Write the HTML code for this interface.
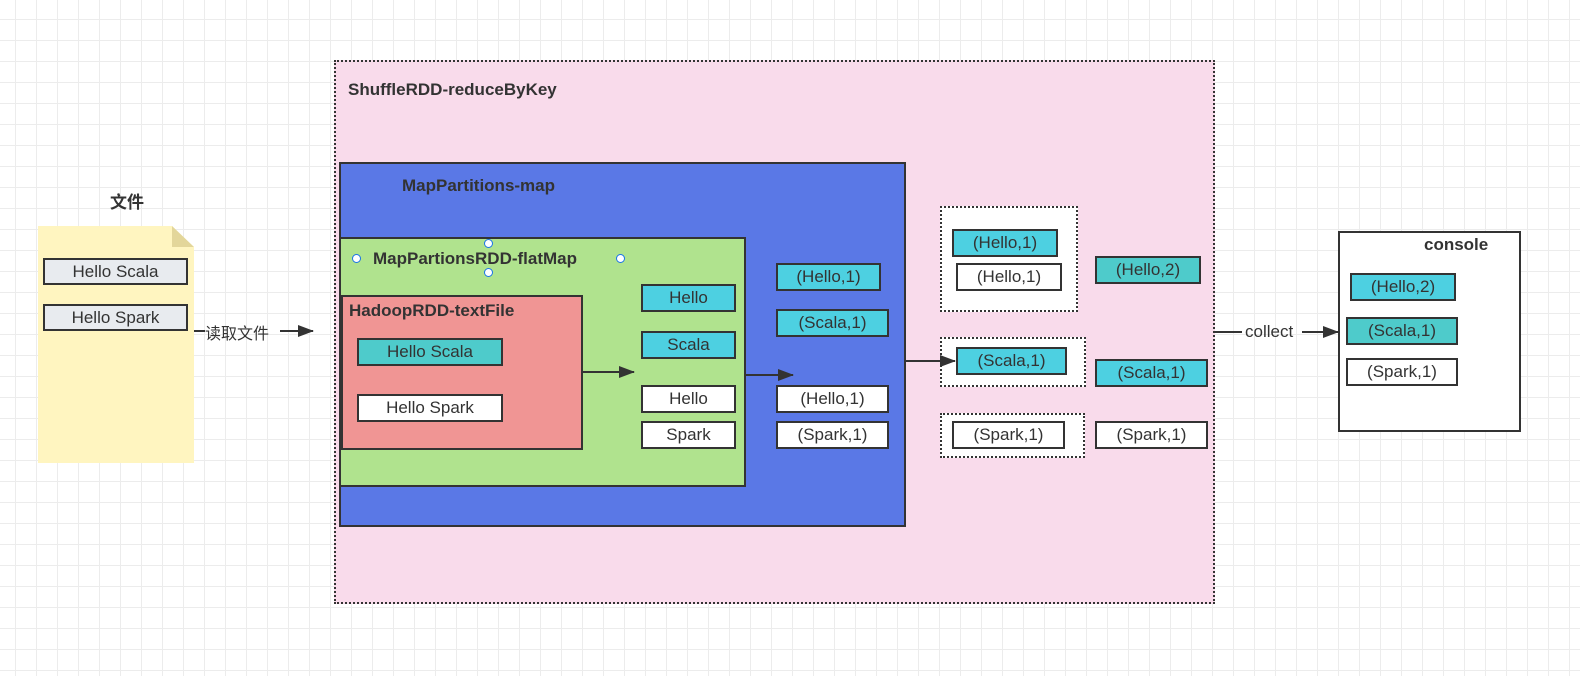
<!DOCTYPE html>
<html><head><meta charset="utf-8"><style>
body{margin:0;width:1580px;height:676px;overflow:hidden;position:relative;font-family:"Liberation Sans","Noto Sans CJK SC",sans-serif;
background-color:#fff;background-image:linear-gradient(#ececec 1px,transparent 1px),linear-gradient(90deg,#ececec 1px,transparent 1px);background-size:21px 21px;background-position:-6px -2px;}
.a{position:absolute;box-sizing:border-box}
.b{position:absolute;box-sizing:border-box;border:2px solid #333;display:flex;align-items:center;justify-content:center;font-size:17px;color:#333}
.c{background:#4dd0e1}.t{background:#4ecbcb}.w{background:#fff}.g{background:#e8ebef}
.h{position:absolute;font-weight:bold;color:#333;font-size:17px;white-space:nowrap}
.d{position:absolute;box-sizing:border-box;border:2px dotted #333}
.hd{position:absolute;width:9px;height:9px;border:1.5px solid #1a73e8;border-radius:50%;background:#fff;box-sizing:border-box}
</style></head><body>
<div class="h" style="left:110px;top:188px">文件</div>
<div class="a" style="left:38px;top:226px;width:156px;height:237px;background:#fff5c0;clip-path:polygon(0 0,134px 0,156px 21px,156px 100%,0 100%)"></div>
<div class="a" style="left:172px;top:226px;width:22px;height:21px;background:#e3d69a;clip-path:polygon(0 0,0 100%,100% 100%)"></div>
<div class="b g" style="left:43px;top:258px;width:145px;height:27px">Hello Scala</div>
<div class="b g" style="left:43px;top:304px;width:145px;height:27px">Hello Spark</div>

<div class="d" style="left:334px;top:60px;width:881px;height:544px;background:#f9dbeb"></div>
<div class="h" style="left:348px;top:80px">ShuffleRDD-reduceByKey</div>
<div class="a" style="left:339px;top:162px;width:567px;height:365px;background:#5a78e6;border:2px solid #333"></div>
<div class="h" style="left:402px;top:176px">MapPartitions-map</div>
<div class="a" style="left:339px;top:237px;width:407px;height:250px;background:#b0e38e;border:2px solid #333"></div>
<div class="h" style="left:373px;top:249px">MapPartionsRDD-flatMap</div>
<div class="hd" style="left:484px;top:239px"></div><div class="hd" style="left:352px;top:254px"></div><div class="hd" style="left:616px;top:254px"></div><div class="hd" style="left:484px;top:268px"></div>
<div class="a" style="left:341px;top:295px;width:242px;height:155px;background:#f09594;border:2px solid #333"></div>
<div class="h" style="left:349px;top:301px">HadoopRDD-textFile</div>
<div class="b t" style="left:357px;top:338px;width:146px;height:28px">Hello Scala</div>
<div class="b w" style="left:357px;top:394px;width:146px;height:28px">Hello Spark</div>
<div class="b c" style="left:641px;top:284px;width:95px;height:28px">Hello</div>
<div class="b c" style="left:641px;top:331px;width:95px;height:28px">Scala</div>
<div class="b w" style="left:641px;top:385px;width:95px;height:28px">Hello</div>
<div class="b w" style="left:641px;top:421px;width:95px;height:28px">Spark</div>
<div class="b c" style="left:776px;top:263px;width:105px;height:28px">(Hello,1)</div>
<div class="b c" style="left:776px;top:309px;width:113px;height:28px">(Scala,1)</div>
<div class="b w" style="left:776px;top:385px;width:113px;height:28px">(Hello,1)</div>
<div class="b w" style="left:776px;top:421px;width:113px;height:28px">(Spark,1)</div>

<div class="d" style="left:940px;top:206px;width:138px;height:106px;background:#fff"></div>
<div class="d" style="left:940px;top:337px;width:146px;height:50px;background:#fff"></div>
<div class="d" style="left:940px;top:413px;width:145px;height:45px;background:#fff"></div>
<div class="b c" style="left:952px;top:229px;width:106px;height:28px">(Hello,1)</div>
<div class="b w" style="left:956px;top:263px;width:106px;height:28px">(Hello,1)</div>
<div class="b c" style="left:956px;top:347px;width:111px;height:28px">(Scala,1)</div>
<div class="b w" style="left:952px;top:421px;width:113px;height:28px">(Spark,1)</div>
<div class="b t" style="left:1095px;top:256px;width:106px;height:28px">(Hello,2)</div>
<div class="b c" style="left:1095px;top:359px;width:113px;height:28px">(Scala,1)</div>
<div class="b w" style="left:1095px;top:421px;width:113px;height:28px">(Spark,1)</div>

<div class="a" style="left:1338px;top:231px;width:183px;height:201px;background:#fff;border:2px solid #333"></div>
<div class="h" style="left:1424px;top:235px">console</div>
<div class="b c" style="left:1350px;top:273px;width:106px;height:28px">(Hello,2)</div>
<div class="b t" style="left:1346px;top:317px;width:112px;height:28px">(Scala,1)</div>
<div class="b w" style="left:1346px;top:358px;width:112px;height:28px">(Spark,1)</div>

<svg class="a" style="left:0;top:0" width="1580" height="676">
<defs><marker id="m" markerWidth="16" markerHeight="12" refX="15" refY="6" orient="auto" markerUnits="userSpaceOnUse"><path d="M0,0L16,6L0,12z" fill="#333"/></marker></defs>
<g stroke="#333" stroke-width="2" fill="none">
<line x1="194" y1="331" x2="205" y2="331"/><line x1="280" y1="331" x2="313" y2="331" marker-end="url(#m)"/>
<line x1="583" y1="372" x2="634" y2="372" marker-end="url(#m)"/>
<line x1="746" y1="375" x2="793" y2="375" marker-end="url(#m)"/>
<line x1="906" y1="361" x2="955" y2="361" marker-end="url(#m)"/>
<line x1="1215" y1="332" x2="1242" y2="332"/><line x1="1302" y1="332" x2="1338" y2="332" marker-end="url(#m)"/>
</g></svg>
<div class="a" style="left:205px;top:320px;font-size:16px;color:#333">读取文件</div>
<div class="a" style="left:1245px;top:322px;font-size:17px;color:#333">collect</div>
</body></html>
